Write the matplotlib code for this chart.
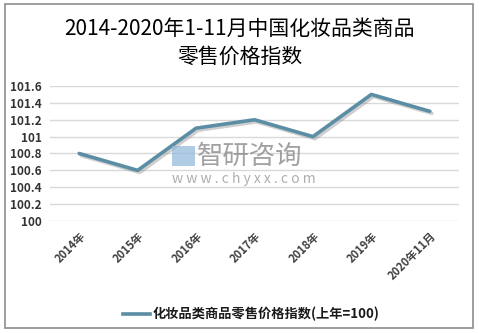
import matplotlib.pyplot as plt
from matplotlib.patches import Rectangle
import matplotlib.patheffects as pe

plt.rcParams['font.family'] = ['Noto Sans CJK SC', 'DejaVu Sans']

categories = ['2014年', '2015年', '2016年', '2017年', '2018年', '2019年', '2020年11月']
index_values = [100.8, 100.6, 101.1, 101.2, 101.0, 101.5, 101.3]
yticks = [100, 100.2, 100.4, 100.6, 100.8, 101, 101.2, 101.4, 101.6]
ytick_labels = ['100', '100.2', '100.4', '100.6', '100.8', '101', '101.2', '101.4', '101.6']

line_color = '#5b8ea5'

fig = plt.figure(figsize=(4.79, 3.33), dpi=100)
fig.patches.append(Rectangle((5 / 479, 1 - 328 / 333), 468 / 479, 324 / 333,
                             transform=fig.transFigure, fill=False,
                             edgecolor='#8c8c8c', linewidth=1.2))

fig.text(0.5, 1 - 29 / 333, '2014-2020年1-11月中国化妆品类商品',
         ha='center', va='center', fontsize=15, fontweight='medium')
fig.text(0.5, 1 - 57 / 333, '零售价格指数',
         ha='center', va='center', fontsize=15, fontweight='medium')

ax = fig.add_axes([50 / 479, 1 - 221 / 333, 409 / 479, 135 / 333])
x = range(len(categories))
ax.plot(x, index_values, color=line_color, linewidth=2.6, solid_capstyle='round',
        path_effects=[pe.SimpleLineShadow(offset=(1.5, -1.5), shadow_color='#888888', alpha=0.4),
                      pe.Normal()], zorder=3)

ax.set_xlim(-0.5, len(categories) - 0.5)
ax.set_ylim(100, 101.6)
ax.set_yticks(yticks)
ax.set_yticklabels(ytick_labels, fontsize=8.5, fontweight='bold', color='#333333')
ax.set_xticks(list(x))
ax.set_xticklabels(categories, rotation=45, ha='right', rotation_mode='anchor',
                   fontsize=8, fontweight='bold', color='#404040')
ax.tick_params(length=0, pad=6)
ax.grid(axis='y', color='#d9d9d9', linewidth=1)
ax.set_axisbelow(True)
for s in ax.spines.values():
    s.set_visible(False)

# watermark
fig.text(197 / 479, 1 - 156 / 333, '智研咨询', ha='left', va='center',
         fontsize=19, color='#8a8a8a', alpha=0.8)
fig.text(172 / 479, 1 - 179 / 333, 'w w w . c h y x x . c o m', ha='left', va='center',
         fontsize=10, color='#9a9a9a', alpha=0.8)
fig.patches.append(Rectangle((172 / 479, 1 - 166 / 333), 23 / 479, 20 / 333,
                             transform=fig.transFigure, facecolor='#8fb6d9',
                             edgecolor='none', alpha=0.7))

# legend
fig.lines.append(plt.Line2D([123 / 479, 150 / 479], [1 - 314 / 333, 1 - 314 / 333],
                            transform=fig.transFigure, color=line_color, linewidth=2.6))
fig.text(153 / 479, 1 - 314 / 333, '化妆品类商品零售价格指数(上年=100)',
         ha='left', va='center', fontsize=9.5, fontweight='bold', color='#1a1a1a')

fig.savefig('out.png', dpi=100)
